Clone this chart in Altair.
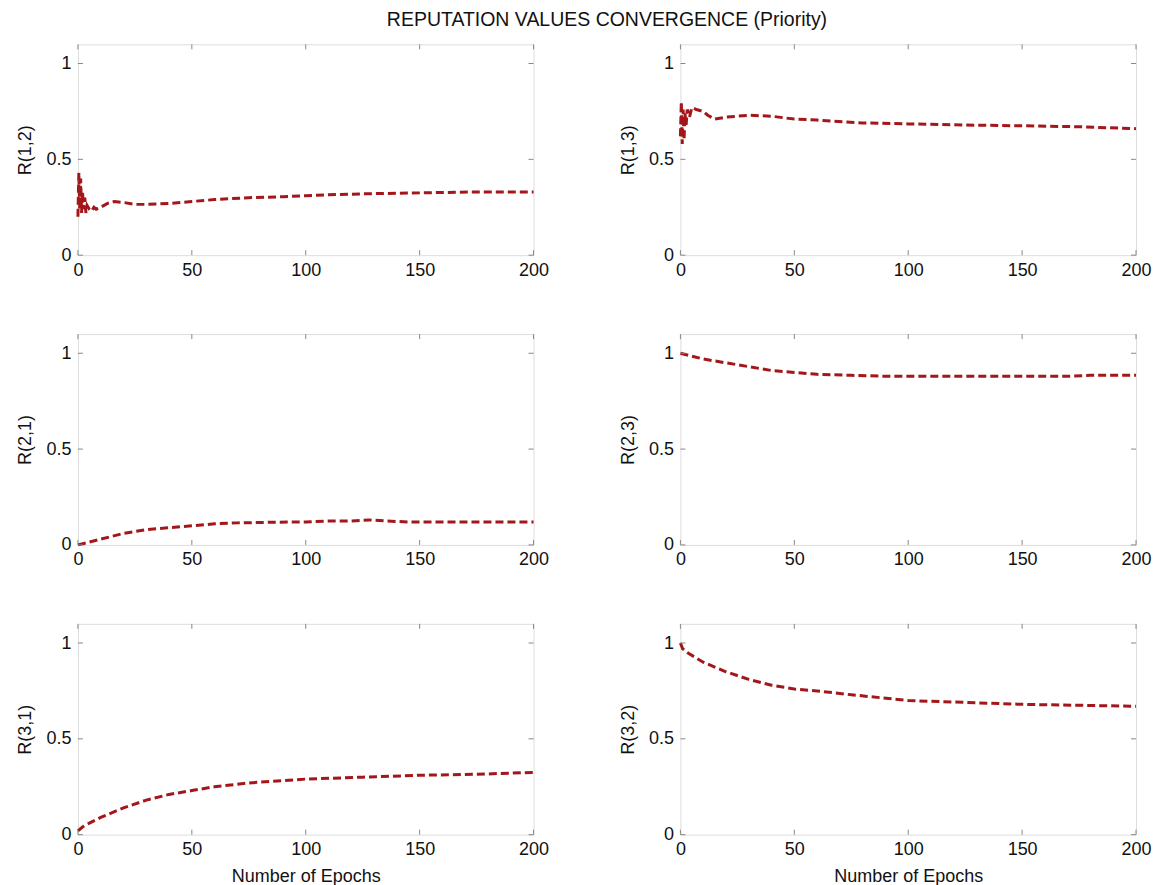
import altair as alt
import pandas as pd

# ---- data ----
ep_12 = [0, 0.4, 0.8, 1.2, 1.6, 2, 2.5, 3, 3.5, 4, 5, 6, 7, 8, 10, 13, 16, 20, 25, 30, 40, 50, 60, 75, 90, 100, 110, 125, 150, 175, 200]
r_12 = [0.20, 0.43, 0.24, 0.40, 0.22, 0.33, 0.24, 0.30, 0.22, 0.26, 0.24, 0.23, 0.25, 0.24, 0.25, 0.27, 0.28, 0.275, 0.265, 0.265, 0.27, 0.28, 0.29, 0.30, 0.305, 0.31, 0.315, 0.32, 0.325, 0.33, 0.33]

ep_13 = [0, 0.4, 0.8, 1.2, 1.6, 2, 2.5, 3, 4, 5, 7, 10, 12, 15, 20, 30, 40, 50, 60, 80, 100, 120, 150, 175, 200]
r_13 = [0.62, 0.80, 0.58, 0.76, 0.60, 0.74, 0.68, 0.76, 0.72, 0.77, 0.76, 0.75, 0.73, 0.71, 0.72, 0.73, 0.725, 0.71, 0.705, 0.69, 0.685, 0.68, 0.675, 0.67, 0.66]

ep_21 = [0, 5, 10, 20, 30, 40, 50, 60, 70, 85, 100, 110, 120, 128, 135, 145, 160, 180, 200]
r_21 = [0.0, 0.015, 0.03, 0.06, 0.08, 0.09, 0.10, 0.11, 0.115, 0.118, 0.12, 0.125, 0.125, 0.13, 0.125, 0.12, 0.12, 0.12, 0.12]

ep_23 = [0, 5, 10, 20, 30, 40, 50, 60, 75, 90, 100, 125, 150, 170, 180, 200]
r_23 = [1.0, 0.985, 0.97, 0.95, 0.93, 0.91, 0.90, 0.89, 0.885, 0.88, 0.88, 0.88, 0.88, 0.88, 0.885, 0.885]

ep_31 = [0, 2, 5, 10, 20, 30, 40, 50, 60, 75, 100, 125, 150, 175, 200]
r_31 = [0.02, 0.04, 0.06, 0.09, 0.14, 0.18, 0.21, 0.23, 0.25, 0.27, 0.29, 0.30, 0.31, 0.315, 0.325]

ep_32 = [0, 1, 3, 10, 20, 30, 40, 50, 60, 75, 100, 125, 150, 175, 200]
r_32 = [1.0, 0.97, 0.95, 0.90, 0.85, 0.81, 0.78, 0.76, 0.75, 0.73, 0.70, 0.69, 0.68, 0.675, 0.67]

x_ticks = [0, 50, 100, 150, 200]
y_ticks = [0, 0.5, 1]

titles = ["R(1,2)", "R(1,3)", "R(2,1)", "R(2,3)", "R(3,1)", "R(3,2)"]
series = [(ep_12, r_12), (ep_13, r_13), (ep_21, r_21), (ep_23, r_23), (ep_31, r_31), (ep_32, r_32)]

W, H = 456, 211
FONT = "Liberation Sans"
LINE_COLOR = "#a3161a"

xdf = pd.DataFrame({"v": x_ticks})
ydf = pd.DataFrame({"v": y_ticks})


def panel(name, ep, vals, bottom):
    df = pd.DataFrame({"epoch": ep, "val": vals})
    xs = alt.Scale(domain=[0, 200], nice=False, zero=False)
    ys = alt.Scale(domain=[0, 1.1], nice=False, zero=False)
    xaxis = alt.Axis(
        values=x_ticks, tickSize=0, domain=False, grid=False, labelPadding=6,
        labelFontSize=18, labelFont=FONT, labelColor="#111",
        title="Number of Epochs" if bottom else None,
        titleFont=FONT, titleFontSize=18, titleFontWeight="normal", titleColor="#111",
        titlePadding=9, labelFlush=False,
    )
    yaxis = alt.Axis(
        values=y_ticks, tickSize=0, domain=False, grid=False, labelPadding=7,
        labelFontSize=18, labelFont=FONT, labelColor="#111", labelExpr="datum.value + ''",
        title=name, titleFont=FONT, titleFontSize=18, titleFontWeight="normal",
        titleColor="#111", titlePadding=11,
    )
    line = alt.Chart(df).mark_line(
        color=LINE_COLOR, strokeWidth=3, strokeDash=[8, 4]
    ).encode(
        x=alt.X("epoch:Q", scale=xs, axis=xaxis),
        y=alt.Y("val:Q", scale=ys, axis=yaxis),
    )
    tick_style = dict(color="#888", strokeWidth=1)
    yl = alt.Chart(ydf).mark_rule(**tick_style).encode(
        y=alt.Y("v:Q", scale=ys), x=alt.value(0), x2=alt.value(5))
    yr = alt.Chart(ydf).mark_rule(**tick_style).encode(
        y=alt.Y("v:Q", scale=ys), x=alt.value(W - 5), x2=alt.value(W))
    xb = alt.Chart(xdf).mark_rule(**tick_style).encode(
        x=alt.X("v:Q", scale=xs), y=alt.value(H - 5), y2=alt.value(H))
    xt = alt.Chart(xdf).mark_rule(**tick_style).encode(
        x=alt.X("v:Q", scale=xs), y=alt.value(0), y2=alt.value(5))
    return alt.layer(line, yl, yr, xb, xt).properties(width=W, height=H)


panels = [panel(titles[i], series[i][0], series[i][1], bottom=(i >= 4)) for i in range(6)]

chart = alt.concat(
    *panels, columns=2, spacing={"row": 79, "column": 147}, bounds="flush"
).properties(
    title=alt.TitleParams(
        "REPUTATION VALUES CONVERGENCE (Priority)",
        font=FONT, fontSize=19.5, fontWeight="normal", color="#111",
        anchor="middle", offset=13, dx=23,
    ),
    padding={"left": 16, "top": 9, "right": 5, "bottom": 2},
).configure_view(stroke="#444", strokeWidth=1.2).configure(background="white")

chart.save("out.html", embed_options={"renderer": "svg", "actions": False})
